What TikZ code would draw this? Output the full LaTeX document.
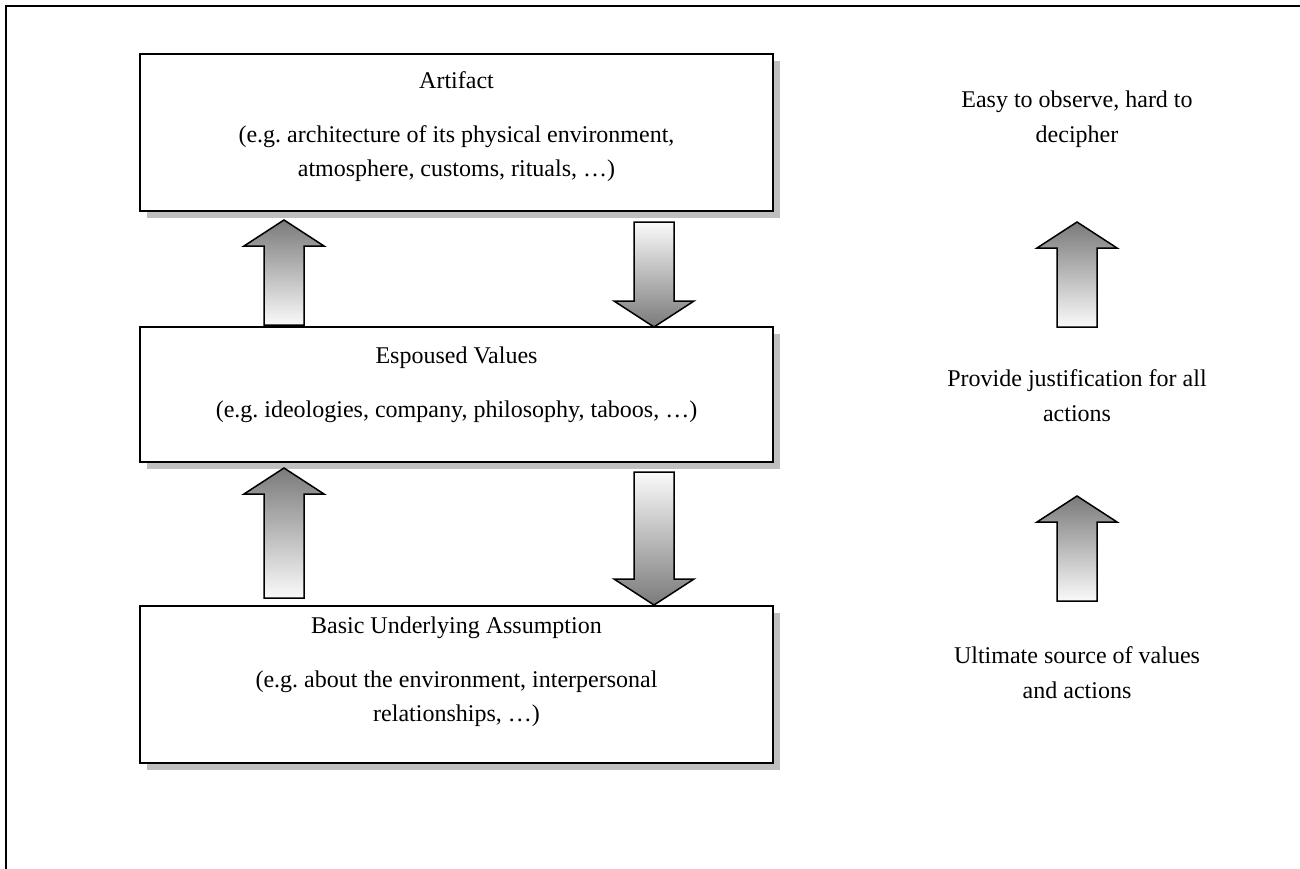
\documentclass[tikz,border=0pt]{standalone}
\usepackage{fontspec}
\setmainfont{Liberation Serif}
\usetikzlibrary{positioning,shadows}

% block arrows: x of the axis, y where the arrow starts, y of its point
\newcommand{\upblock}[3]{%
  \shadedraw[blockarrow, top color=black!52, bottom color=black!2]
    (#1,#2) -- (#1+40,#2-26) -- (#1+20,#2-26) -- (#1+20,#3)
    -- (#1-20,#3) -- (#1-20,#2-26) -- (#1-40,#2-26) -- cycle;}
\newcommand{\downblock}[3]{%
  \shadedraw[blockarrow, top color=black!2, bottom color=black!52]
    (#1-20,#2) -- (#1+20,#2) -- (#1+20,#3+26) -- (#1+40,#3+26)
    -- (#1,#3) -- (#1-40,#3+26) -- (#1-20,#3+26) -- cycle;}

\tikzset{
  layer/.style={draw, line width=1.5pt, fill=white, minimum width=633pt, inner sep=0pt,
    drop shadow={shadow xshift=7pt, shadow yshift=-7pt, fill=black!25, opacity=1}},
  layertext/.style={align=center, inner sep=0pt, font=\fontsize{24}{34}\selectfont\frenchspacing},
  sidetext/.style={align=center, inner sep=0pt, font=\fontsize{24}{35}\selectfont\frenchspacing},
  blockarrow/.style={draw=black, line width=1.5pt, line join=miter}
}

\begin{document}
\begin{tikzpicture}[x=1pt, y=1pt]
  \useasboundingbox (0,0) rectangle (1300,-869);
  \draw[line width=2.2pt] (6,-869) -- (6,-6) -- (1300,-6);

  % the three layers
  \node[layer, minimum height=157pt] (artifact) at (456.5,-132.5) {};
  \node[layer, minimum height=135pt] (espoused) at (456.5,-394.5) {};
  \node[layer, minimum height=157pt] (basic) at (456.5,-684.5) {};

  \node[layertext, below=18pt of artifact.north] (artifacttxt)
    {Artifact\\[20pt](e.g. architecture of its physical environment,\\atmosphere, customs, rituals, …)};
  \node[layertext, below=20pt of espoused.north] (espousedtxt)
    {Espoused Values\\[20pt](e.g. ideologies, company, philosophy, taboos, …)};
  \node[layertext, below=11pt of basic.north] (basictxt)
    {Basic Underlying Assumption\\[20pt](e.g. about the environment, interpersonal\\relationships, …)};

  % arrows between the layers
  \upblock{284}{-220}{-325}
  \downblock{654}{-222}{-327}
  \upblock{284}{-468}{-598}
  \downblock{654}{-472}{-605}

  % right column
  \node[sidetext, anchor=north] (observe) at (1077,-91) {Easy to observe, hard to\\decipher};
  \node[sidetext, anchor=north] (justify) at (1077,-369) {Provide justification for all\\actions};
  \node[sidetext, anchor=north] (source) at (1077,-646) {Ultimate source of values\\and actions};
  \upblock{1077}{-222}{-327}
  \upblock{1077}{-496}{-601}
\end{tikzpicture}
\end{document}
